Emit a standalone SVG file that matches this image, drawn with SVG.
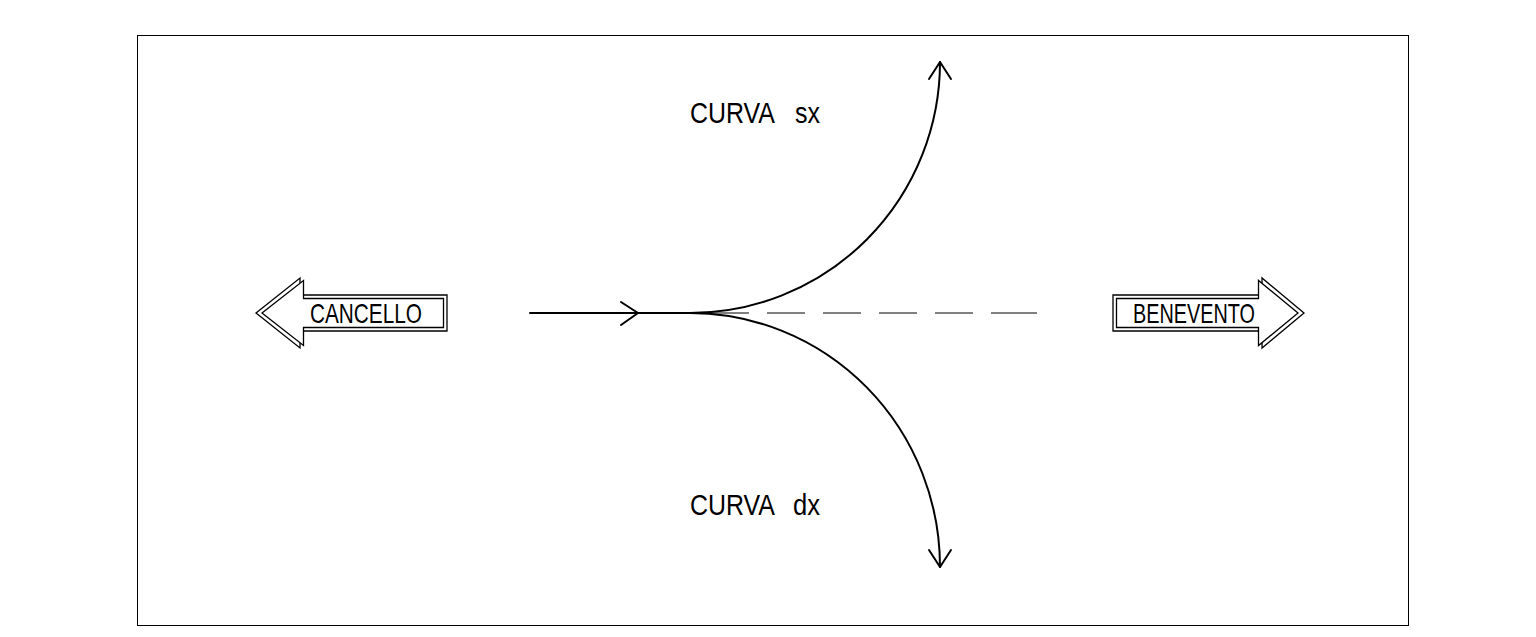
<svg xmlns="http://www.w3.org/2000/svg" width="1536" height="637" viewBox="0 0 1536 637">
<style>
.ln{fill:none;stroke:#000;stroke-width:2;stroke-linecap:round;stroke-linejoin:round}
.sign{fill:#fff;stroke:#000;stroke-width:1.3;stroke-linejoin:miter}
.lbl{font-family:"Liberation Sans","Arial",sans-serif;fill:#000}
.big{font-size:30px}
.sg{font-size:28px}
</style>
<rect x="0" y="0" width="1536" height="637" fill="#fff"/>
<rect id="frame" x="137.5" y="35.5" width="1271" height="590" fill="none" stroke="#000" stroke-width="1"/>
<g id="cancello">
<polygon class="sign" points="256,313 300,278 300,295 447,295 447,331 300,331 300,348"/>
<polygon class="sign" points="262,313 303.5,280.5 303.5,298.5 443.5,298.5 443.5,327.5 303.5,327.5 303.5,345.5"/>
<text class="lbl sg" x="310" y="323" textLength="112" lengthAdjust="spacingAndGlyphs">CANCELLO</text>
</g>
<g id="benevento">
<polygon class="sign" points="1304,313 1262,278 1262,295 1113,295 1113,331 1262,331 1262,348"/>
<polygon class="sign" points="1298,313 1258.5,280.5 1258.5,298.5 1116.5,298.5 1116.5,327.5 1258.5,327.5 1258.5,345.5"/>
<text class="lbl sg" x="1133" y="323" textLength="122" lengthAdjust="spacingAndGlyphs">BENEVENTO</text>
</g>
<g id="connectors">
<line class="ln" x1="530" y1="313" x2="692" y2="313"/>
<polyline class="ln" points="621,302 638,313 621,325"/>
<line x1="692" y1="313" x2="1037" y2="313" stroke="#808080" stroke-width="2" stroke-dasharray="57 18 38 18 38 18 38 18 38 18 46"/>
<path class="ln" d="M690,313 A250,251 0 0 0 940,62"/>
<polyline class="ln" points="929,79 940,62 951,79"/>
<path class="ln" d="M690,313 A250,254 0 0 1 940,567"/>
<polyline class="ln" points="929,550 940,567 951,550"/>
</g>
<g id="curva-sx">
<text class="lbl big" x="690" y="123" textLength="85" lengthAdjust="spacingAndGlyphs">CURVA</text>
<text class="lbl big" x="795" y="123" textLength="25" lengthAdjust="spacingAndGlyphs">sx</text>
</g>
<g id="curva-dx">
<text class="lbl big" x="690" y="515" textLength="85" lengthAdjust="spacingAndGlyphs">CURVA</text>
<text class="lbl big" x="793" y="515" textLength="27" lengthAdjust="spacingAndGlyphs">dx</text>
</g>
</svg>
